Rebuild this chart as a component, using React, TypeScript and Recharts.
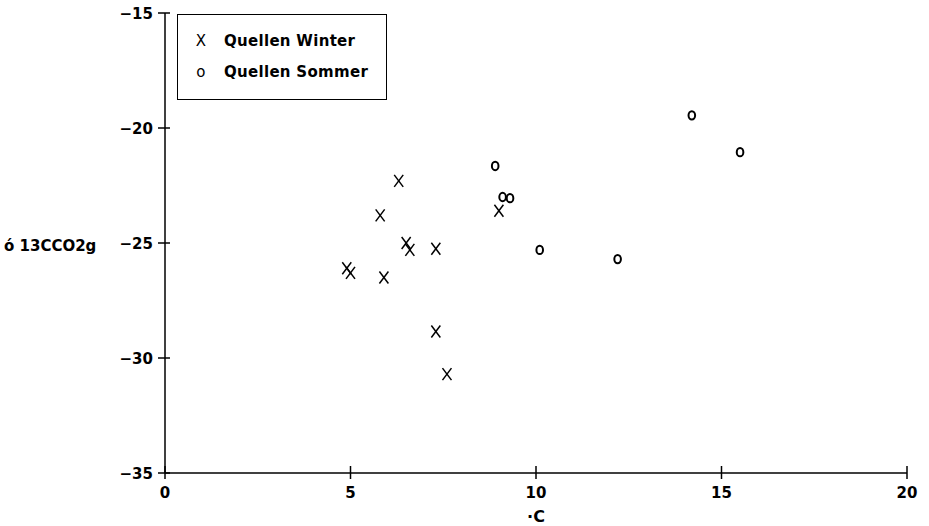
import React from "react";
import {
  ScatterChart,
  Scatter,
  XAxis,
  YAxis,
  Legend,
} from "recharts";

// temperature (°C) vs δ13C of soil CO2 for the spring sites
const winterTemp = [4.9, 5.0, 5.8, 5.9, 6.3, 6.5, 6.6, 7.3, 7.3, 7.6, 9.0];
const winterD13C = [-26.1, -26.3, -23.8, -26.5, -22.3, -25.0, -25.3, -25.25, -28.85, -30.7, -23.6];

const summerTemp = [8.9, 9.1, 9.3, 10.1, 12.2, 14.2, 15.5];
const summerD13C = [-21.65, -23.0, -23.05, -25.3, -25.7, -19.45, -21.05];

const xTicks = [0, 5, 10, 15, 20];
const yTicks = [-35, -30, -25, -20, -15];

const seriesNames = ["Quellen Winter", "Quellen Sommer"];

const FONT = "'DejaVu Sans', Verdana, sans-serif";

const winterData = winterTemp.map((t, i) => ({ t, d: winterD13C[i] }));
const summerData = summerTemp.map((t, i) => ({ t, d: summerD13C[i] }));

function CrossMark(props: any) {
  const { cx, cy } = props;
  if (cx == null || cy == null) return null;
  return (
    <g stroke="#000" strokeWidth={1.5} fill="none">
      <line x1={cx - 4.5} y1={cy - 6} x2={cx + 4.5} y2={cy + 6} />
      <line x1={cx + 4.5} y1={cy - 6} x2={cx - 4.5} y2={cy + 6} />
    </g>
  );
}

function RingMark(props: any) {
  const { cx, cy } = props;
  if (cx == null || cy == null) return null;
  return <ellipse cx={cx} cy={cy} rx={3.3} ry={4.2} stroke="#000" strokeWidth={2} fill="none" />;
}

function YTick(props: any) {
  const { x, y, payload } = props;
  return (
    <g>
      <line x1={x - 7} x2={x + 5} y1={y} y2={y} stroke="#000" strokeWidth={1.5} />
      <text x={x - 12} y={y + 6} textAnchor="end" fontFamily={FONT} fontWeight="bold" fontSize={15} fill="#000">
        {"\u2212" + Math.abs(payload.value)}
      </text>
    </g>
  );
}

function XTick(props: any) {
  const { x, y, payload } = props;
  return (
    <g>
      <line x1={x} x2={x} y1={y - 7} y2={y + 6} stroke="#000" strokeWidth={1.5} />
      <text x={x} y={y + 25} textAnchor="middle" fontFamily={FONT} fontWeight="bold" fontSize={15} fill="#000">
        {payload.value}
      </text>
    </g>
  );
}

function LegendBox() {
  const row = { display: "flex", alignItems: "center", height: 31 } as const;
  const mark = { width: 46, textAlign: "center", fontWeight: 400, fontSize: 15 } as const;
  return (
    <div
      style={{
        width: 210,
        height: 86,
        border: "1.5px solid #000",
        boxSizing: "border-box",
        background: "#fff",
        fontFamily: FONT,
        fontWeight: "bold",
        fontSize: 15,
        letterSpacing: 0.3,
        paddingTop: 10,
      }}
    >
      <div style={row}>
        <span style={mark}>X</span>
        <span>{seriesNames[0]}</span>
      </div>
      <div style={row}>
        <span style={mark}>o</span>
        <span>{seriesNames[1]}</span>
      </div>
    </div>
  );
}

export default function App() {
  return (
    <div style={{ position: "absolute", left: 0, top: 0, background: "#fff" }}>
      <ScatterChart
        width={929}
        height={526}
        margin={{ top: 13, right: 22, bottom: 0, left: 0 }}
      >
        <XAxis
          type="number"
          dataKey="t"
          domain={[0, 20]}
          ticks={xTicks}
          interval={0}
          height={53}
          tickSize={0}
          tickMargin={0}
          tickLine={false}
          axisLine={{ stroke: "#000", strokeWidth: 1.5 }}
          tick={<XTick />}
          label={{
            value: "\u00b7C",
            position: "insideBottom",
            offset: 4,
            fill: "#000",
            fontFamily: FONT,
            fontWeight: "bold",
            fontSize: 16,
          }}
        />
        <YAxis
          type="number"
          dataKey="d"
          domain={[-35, -15]}
          ticks={yTicks}
          interval={0}
          width={165}
          tickSize={0}
          tickMargin={0}
          tickLine={false}
          axisLine={{ stroke: "#000", strokeWidth: 1.5 }}
          tick={<YTick />}
          label={(p: any) => {
            const vb = p.viewBox;
            return (
              <text
                x={4}
                y={vb.y + vb.height / 2 + 8}
                fontFamily={FONT}
                fontWeight="bold"
                fontSize={15}
                fill="#000"
              >
                {"\u1f79 13CCO2g"}
              </text>
            );
          }}
        />
        <Legend
          layout="vertical"
          align="center"
          verticalAlign="middle"
          content={() => <LegendBox />}
          wrapperStyle={{ left: 177, top: 14, width: 210, height: 86 }}
        />
        <Scatter name={seriesNames[0]} data={winterData} shape={<CrossMark />} isAnimationActive={false} />
        <Scatter name={seriesNames[1]} data={summerData} shape={<RingMark />} isAnimationActive={false} />
      </ScatterChart>
    </div>
  );
}
